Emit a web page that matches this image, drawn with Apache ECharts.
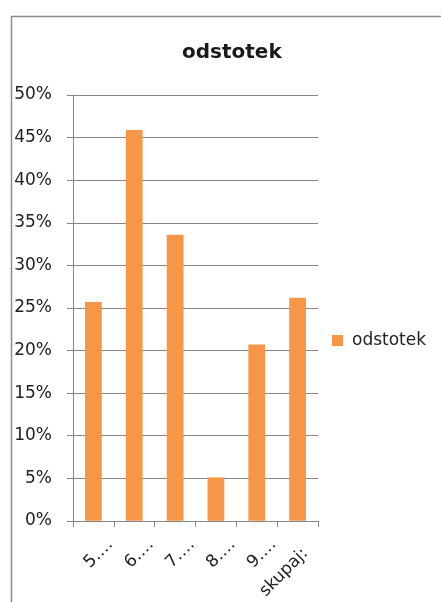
<!DOCTYPE html>
<html>
<head>
<meta charset="utf-8">
<script src="https://cdn.jsdelivr.net/npm/echarts@6/dist/echarts.min.js"></script>
<style>
html,body{margin:0;padding:0;background:#fff;}
#main{width:441px;height:602px;}
</style>
</head>
<body>
<div id="main"></div>
<script>
var categories = ['5.…', '6.…', '7.…', '8.…', '9.…', 'skupaj:'];
var values = [25.7, 45.9, 33.6, 5.1, 20.7, 26.2];
var seriesName = 'odstotek';
var titleText = 'odstotek';

var FONT = '"DejaVu Sans", "Noto Sans", sans-serif';
var chart = echarts.init(document.getElementById('main'));

chart.setOption({
  animation: false,
  backgroundColor: '#ffffff',
  textStyle: { fontFamily: FONT },
  graphic: [{
    type: 'rect',
    shape: { x: 11.5, y: 16.5, width: 460, height: 620 },
    style: { fill: 'none', stroke: '#8c8c8c', lineWidth: 1.5 },
    silent: true
  }],
  title: {
    text: titleText,
    left: 177,
    top: 38,
    textStyle: { fontFamily: FONT, fontSize: 20, fontWeight: 'bold', color: '#1a1a1a' }
  },
  legend: {
    orient: 'vertical',
    left: 332,
    top: 332,
    padding: 0,
    itemWidth: 11,
    itemHeight: 11,
    itemGap: 4,
    icon: 'rect',
    textStyle: { fontFamily: FONT, fontSize: 17, color: '#222', padding: [0, 0, 0, 4] },
    data: [seriesName]
  },
  grid: { left: 73, right: 123, top: 95, bottom: 81, containLabel: false },
  xAxis: {
    type: 'category',
    data: categories,
    axisLine: { lineStyle: { color: '#868686', width: 1 } },
    axisTick: { show: true, inside: false, length: 6, lineStyle: { color: '#868686' } },
    axisLabel: {
      rotate: 45, margin: 4, interval: 0, verticalAlign: 'top',
      formatter: function (v, i) {
        return i === categories.length - 1 ? '{t|' + v + '}{g|}' : '{t|' + v + '}';
      },
      rich: {
        t: { fontSize: 17, color: '#222', fontFamily: FONT, lineHeight: 48 },
        g: { width: 13, lineHeight: 48 }
      }
    }
  },
  yAxis: {
    type: 'value',
    min: 0,
    max: 50,
    interval: 5,
    axisLine: { show: true, lineStyle: { color: '#868686', width: 1 } },
    axisTick: { show: true, inside: false, length: 6, lineStyle: { color: '#868686' } },
    splitLine: { show: true, lineStyle: { color: '#868686', width: 1 } },
    axisLabel: { formatter: '{value}%', margin: 21, fontSize: 17, color: '#222', fontFamily: FONT }
  },
  series: [{
    name: seriesName,
    type: 'bar',
    data: values,
    barWidth: '41%',
    itemStyle: { color: '#F79646' }
  }]
});
</script>
</body>
</html>
